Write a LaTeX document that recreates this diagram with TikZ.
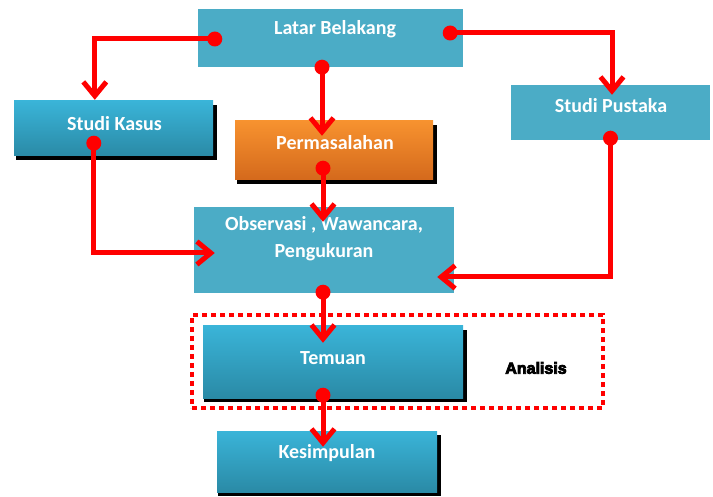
\documentclass[tikz,border=0pt]{standalone}
\usepackage{fontspec}
\setmainfont{Carlito}
\newfontfamily\heavyfont[FakeBold=5]{Liberation Sans Bold}
\usetikzlibrary{calc,arrows.meta,shadows}
\definecolor{flatblue}{HTML}{4BACC6}
\definecolor{gtop}{HTML}{3AB4D8}
\definecolor{gbot}{HTML}{2A8AA6}
\definecolor{otop}{HTML}{F7922F}
\definecolor{obot}{HTML}{D4691C}
\tikzset{
  flatbox/.style={fill=flatblue, draw=none, inner sep=0pt},
  gradbox/.style={top color=gtop, bottom color=gbot, draw=none, inner sep=0pt,
    drop shadow={shadow xshift=2.5pt, shadow yshift=-4pt, shadow scale=1.01, opacity=1, fill=black}},
  orangebox/.style={top color=otop, bottom color=obot, draw=none, inner sep=0pt,
    drop shadow={shadow xshift=2.5pt, shadow yshift=-4pt, shadow scale=1.01, opacity=1, fill=black}},
  txt/.style={text=white, font=\fontsize{20}{27}\selectfont\bfseries, inner sep=0pt, align=center},
  flow/.style={draw=red, line width=5pt, -{Straight Barb[length=14pt,width=23pt]}},
  reddot/.style={circle, fill=red, inner sep=0pt, minimum size=15pt},
  dotbox/.style={draw=red, line width=4pt, dash pattern=on 5pt off 4pt, inner sep=0pt},
}
\begin{document}
\begin{tikzpicture}[x=1pt,y=-1pt]
\useasboundingbox (0,0) rectangle (713,497);
% boxes
\node[flatbox, minimum width=265pt, minimum height=58pt] (lb) at (330.5,38) {};
\node[txt] (lbt) at (335,29) {Latar Belakang};
\node[gradbox, minimum width=199pt, minimum height=55pt] (sk) at (113.5,128.5) {};
\node[txt] (skt) at (114.5,124) {Studi Kasus};
\node[orangebox, minimum width=198pt, minimum height=59pt] (pm) at (334,150.5) {};
\node[txt] (pmt) at (335,143) {Permasalahan};
\node[flatbox, minimum width=199pt, minimum height=55pt] (sp) at (610.5,112.5) {};
\node[txt] (spt) at (611,106) {Studi Pustaka};
\node[flatbox, minimum width=260pt, minimum height=86pt] (ob) at (324,250) {};
\node[txt] (obt) at (324,239) {Observasi , Wawancara,\\Pengukuran};
\node[dotbox, minimum width=411pt, minimum height=93pt] (an) at (397.5,361.5) {};
\node[gradbox, minimum width=260pt, minimum height=72pt] (tm) at (333,362) {};
\node[txt] (tmt) at (333,358) {Temuan};
\node[gradbox, minimum width=220pt, minimum height=61pt] (ks) at (327,461.5) {};
\node[txt] (kst) at (327,453) {Kesimpulan};
\node[font=\heavyfont\fontsize{16}{18}\selectfont, inner sep=0pt] (ant) at (536,368) {Analisis};
% dots
\node[reddot] (d1) at ($(lb.west)+(17,1)$) {};
\node[reddot] (d2) at ($(lb.south)+(-8.5,0)$) {};
\node[reddot] (d3) at ($(lb.east)+(-13,-5)$) {};
\node[reddot] (d4) at ($(pm.south)+(-11,-12)$) {};
\node[reddot] (d5) at ($(sk.south west)+(80,-13)$) {};
\node[reddot] (d6) at ($(sp.south)+(0,-2)$) {};
\node[reddot] (d7) at ($(ob.south)+(-1,-1)$) {};
\node[reddot] (d8) at ($(tm.south)+(-10,-3)$) {};
% connectors
\draw[flow] (d1.center) -| ($(sk.north west)+(81,-1)$);
\draw[flow] (d2.center) -- ($(pm.north)+(-12,15)$);
\draw[flow] (d3.center) -| ($(sp.north)+(1.5,10)$);
\draw[flow] (d4.center) -- ($(ob.north)+(-1,15)$);
\draw[flow] (d5.center) |- ($(ob.west)+(21,3)$);
\draw[flow] (d6.center) |- ($(ob.east)+(-17,27)$);
\draw[flow] (d7.center) -- ($(tm.north)+(-10,17)$);
\draw[flow] (d8.center) -- ($(ks.north)+(-4,16)$);
\end{tikzpicture}
\end{document}
